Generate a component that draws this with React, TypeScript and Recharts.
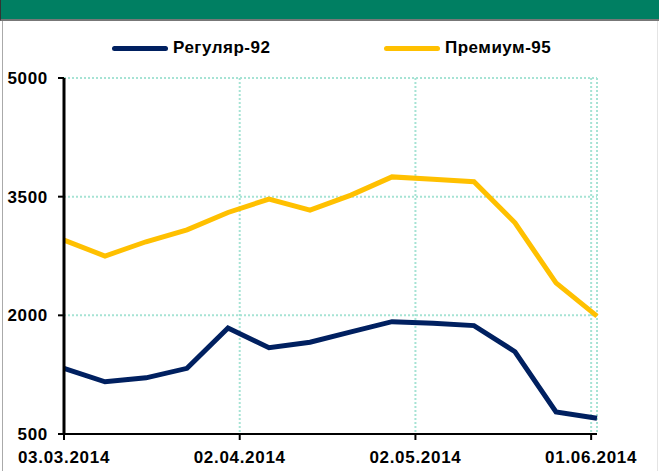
import React from "react";
import {
    LineChart,
    Line,
    XAxis,
    YAxis,
    CartesianGrid,
    Legend,
} from "recharts";

// weekly observations
const dates = [
    "03.03.2014", "10.03.2014", "17.03.2014", "24.03.2014", "31.03.2014",
    "07.04.2014", "14.04.2014", "21.04.2014", "28.04.2014", "05.05.2014",
    "12.05.2014", "19.05.2014", "26.05.2014", "02.06.2014",
];
const regular92 = [1330, 1160, 1210, 1330, 1840, 1590, 1660, 1790, 1920, 1900, 1870, 1540, 780, 700];
const premium95 = [2950, 2750, 2930, 3080, 3300, 3470, 3330, 3520, 3750, 3720, 3690, 3170, 2410, 1990];

const xTickLabels = ["03.03.2014", "02.04.2014", "02.05.2014", "01.06.2014"];
const yTicks = [500, 2000, 3500, 5000];

const seriesNames = ["Регуляр-92", "Премиум-95"];
const seriesColors = ["#002060", "#FFC000"];

const FONT = '"Liberation Sans", Arial, sans-serif';

const toTime = (s: string) => {
    const [d, m, y] = s.split(".");
    return Date.UTC(parseInt(y), parseInt(m) - 1, parseInt(d));
};

const formatDate = (t: number) => {
    const d = new Date(t);
    const dd = String(d.getUTCDate()).padStart(2, "0");
    const mm = String(d.getUTCMonth() + 1).padStart(2, "0");
    return `${dd}.${mm}.${d.getUTCFullYear()}`;
};

const data = dates.map((d, i) => ({
    t: toTime(d),
    regular: regular92[i],
    premium: premium95[i],
}));

const tickStyle = {
    fill: "#000",
    fontFamily: FONT,
    fontWeight: "bold",
    fontSize: 17,
    letterSpacing: 0.7,
};

const LegendContent = () => {
    const offsets = [112, 384];
    return (
        <div style={{ position: "relative", width: 659, height: 20 }}>
            {seriesNames.map((name, i) => (
                <div
                    key={name}
                    style={{
                        position: "absolute",
                        left: offsets[i],
                        top: 0,
                        display: "flex",
                        alignItems: "center",
                        height: 20,
                    }}
                >
                    <span
                        style={{
                            display: "inline-block",
                            width: 56,
                            height: 5,
                            borderRadius: 3,
                            background: seriesColors[i],
                            marginRight: 5,
                        }}
                    />
                    <span
                        style={{
                            fontFamily: FONT,
                            fontWeight: "bold",
                            fontSize: 17,
                            letterSpacing: 0.5,
                            color: "#000",
                        }}
                    >
                        {name}
                    </span>
                </div>
            ))}
        </div>
    );
};

export default function App() {
    return (
        <div
            style={{
                position: "absolute",
                left: 0,
                top: 0,
                width: 659,
                height: 471,
                background: "#fff",
                overflow: "hidden",
            }}
        >
            {/* header band */}
            <div
                style={{
                    position: "absolute",
                    left: 0,
                    top: 0,
                    width: 659,
                    height: 21,
                    background: "#007F62",
                    borderBottom: "2px solid #777",
                    borderLeft: "1px solid #333",
                    boxSizing: "border-box",
                }}
            />
            <div
                style={{
                    position: "absolute",
                    left: 2,
                    top: 21,
                    width: 1,
                    height: 450,
                    background: "#aaa",
                }}
            />
            <div
                style={{
                    position: "absolute",
                    left: 657,
                    top: 21,
                    width: 1,
                    height: 450,
                    background: "#e4e4e4",
                }}
            />
            <div style={{ position: "absolute", left: 0, top: 0 }}>
                <LineChart
                    width={659}
                    height={471}
                    data={data}
                    // legend (20px) is added on top of this margin
                    margin={{ top: 58, right: 62, left: 0, bottom: 0 }}
                >
                    <CartesianGrid
                        stroke="#a6e3d4"
                        strokeWidth={2}
                        strokeDasharray="2 2"
                    />
                    <XAxis
                        dataKey="t"
                        type="number"
                        domain={["dataMin", "dataMax"]}
                        ticks={xTickLabels.map(toTime)}
                        tickFormatter={formatDate}
                        height={37}
                        tickSize={6}
                        tickMargin={11}
                        axisLine={{ stroke: "#000", strokeWidth: 2 }}
                        tickLine={{ stroke: "#000", strokeWidth: 2 }}
                        tick={tickStyle}
                    />
                    <YAxis
                        type="number"
                        domain={[500, 5000]}
                        ticks={yTicks}
                        width={64}
                        tickSize={6}
                        tickMargin={10}
                        axisLine={{ stroke: "#000", strokeWidth: 3 }}
                        tickLine={{ stroke: "#000", strokeWidth: 2 }}
                        tick={tickStyle}
                    />
                    <Legend
                        verticalAlign="top"
                        content={<LegendContent />}
                        wrapperStyle={{ top: 38, left: 0, width: 659 }}
                    />
                    <Line
                        name={seriesNames[0]}
                        dataKey="regular"
                        type="linear"
                        stroke={seriesColors[0]}
                        strokeWidth={5}
                        dot={false}
                        isAnimationActive={false}
                    />
                    <Line
                        name={seriesNames[1]}
                        dataKey="premium"
                        type="linear"
                        stroke={seriesColors[1]}
                        strokeWidth={5}
                        dot={false}
                        isAnimationActive={false}
                    />
                </LineChart>
            </div>
        </div>
    );
}
